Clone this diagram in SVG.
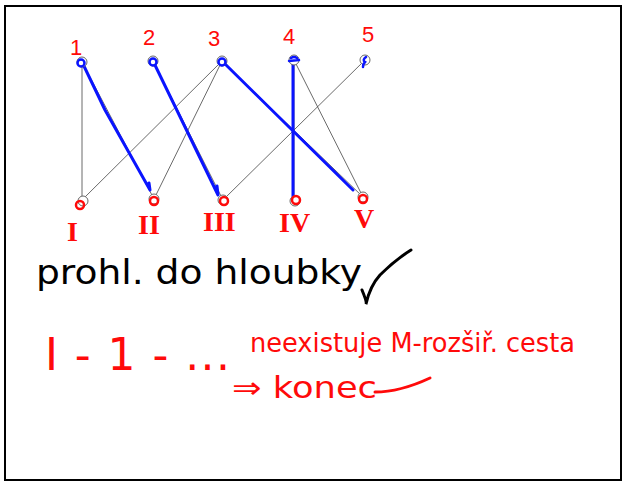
<svg xmlns="http://www.w3.org/2000/svg" width="623" height="483" viewBox="0 0 623 483">
<style>
.frame{fill:#fff;stroke:#000;stroke-width:2}
.edge{stroke:#444;stroke-width:0.8;fill:none}
.match{stroke:#0a14ff;stroke-width:3;fill:none;stroke-linecap:round;stroke-linejoin:round}
.node{fill:#fff;stroke:#666;stroke-width:1}
.scrib{fill:none;stroke:#ff0a0a;stroke-width:2.5;stroke-linecap:round}
.bscrib{fill:none;stroke:#0a14ff;stroke-width:2.5;stroke-linecap:round}
.lbl{font-family:"Liberation Sans",Arial,sans-serif;fill:#ff0a0a;font-size:22px}
.roman{font-family:"Liberation Serif","Times New Roman",serif;fill:#ff0a0a;font-size:28px;font-weight:bold}
.hand{font-family:"DejaVu Sans","Liberation Sans",sans-serif}
.tail{fill:none;stroke-linecap:round;stroke-width:3}
</style>
<rect class="frame" x="5" y="6" width="616" height="474"/>
<g id="connectors">
<line class="edge" x1="82" y1="62" x2="82" y2="200"/>
<line class="edge" x1="82" y1="62" x2="154" y2="199"/>
<line class="edge" x1="153" y1="61" x2="223" y2="200"/>
<line class="edge" x1="222" y1="61" x2="82" y2="200"/>
<line class="edge" x1="222" y1="61" x2="154" y2="199"/>
<line class="edge" x1="222" y1="61" x2="363" y2="197"/>
<line class="edge" x1="294" y1="60" x2="294" y2="200"/>
<line class="edge" x1="294" y1="60" x2="363" y2="197"/>
<line class="edge" x1="365" y1="60" x2="223" y2="200"/>
<path class="match" d="M82 62 L105 110 L150 190 L149 183"/>
<path class="match" d="M153 61 L218 195 L217 186"/>
<path class="match" d="M222 61 L353 190"/>
<path class="match" d="M293 60 L293 200 L296 200"/>
</g>
<g id="n1"><circle class="node" cx="82" cy="62" r="5"/><circle class="bscrib" cx="81" cy="63" r="3.5"/><text class="lbl" x="70" y="55">1</text></g>
<g id="n2"><circle class="node" cx="153" cy="61" r="5"/><circle class="bscrib" cx="153" cy="62" r="3.5"/><text class="lbl" x="143" y="45">2</text></g>
<g id="n3"><circle class="node" cx="222" cy="61" r="5"/><circle class="bscrib" cx="222" cy="62" r="3.5"/><text class="lbl" x="208" y="46">3</text></g>
<g id="n4"><circle class="node" cx="294" cy="60" r="5"/><path class="bscrib" d="M289 61 L299 60 M291 58 Q294 56 297 58"/><text class="lbl" x="283" y="44">4</text></g>
<g id="n5"><circle class="node" cx="365" cy="60" r="5"/><path class="bscrib" d="M366 57 Q362 60 365 62 Q363 64 363 67"/><text class="lbl" x="362" y="42">5</text></g>
<g id="nI"><circle class="node" cx="83" cy="201" r="5"/><circle class="scrib" cx="80" cy="205" r="4"/><text class="roman" x="67" y="241">I</text></g>
<g id="nII"><circle class="node" cx="154" cy="199" r="5"/><circle class="scrib" cx="154" cy="201" r="4"/><text class="roman" x="138" y="234">II</text></g>
<g id="nIII"><circle class="node" cx="223" cy="200" r="5"/><circle class="scrib" cx="224" cy="201" r="4"/><text class="roman" x="203" y="231">III</text></g>
<g id="nIV"><circle class="node" cx="295" cy="201" r="5"/><circle class="scrib" cx="296" cy="200" r="4"/><text class="roman" x="279" y="232">IV</text></g>
<g id="nV"><circle class="node" cx="363" cy="197" r="5"/><circle class="scrib" cx="363" cy="199" r="4"/><text class="roman" x="354" y="228">V</text></g>
<g id="note-black">
<text class="hand" x="36" y="284" font-size="34" textLength="326" lengthAdjust="spacingAndGlyphs" fill="#000">prohl. do hloubky</text>
<path class="tail" stroke="#000" d="M362 290 Q367 302 366 304 Q370 286 380 275 Q395 260 411 250"/>
</g>
<g id="note-red">
<text class="hand" x="45" y="370" font-size="44" textLength="185" lengthAdjust="spacing" fill="#ff0a0a">I - 1 - ...</text>
<text class="hand" x="250" y="352" font-size="26" textLength="325" lengthAdjust="spacingAndGlyphs" fill="#ff0a0a">neexistuje M-rozšiř. cesta</text>
<text class="hand" x="232" y="398" font-size="30" textLength="145" lengthAdjust="spacingAndGlyphs" fill="#ff0a0a">⇒ konec</text>
<path class="tail" stroke="#ff0a0a" d="M375 392 Q400 392 430 378"/>
</g>
</svg>
